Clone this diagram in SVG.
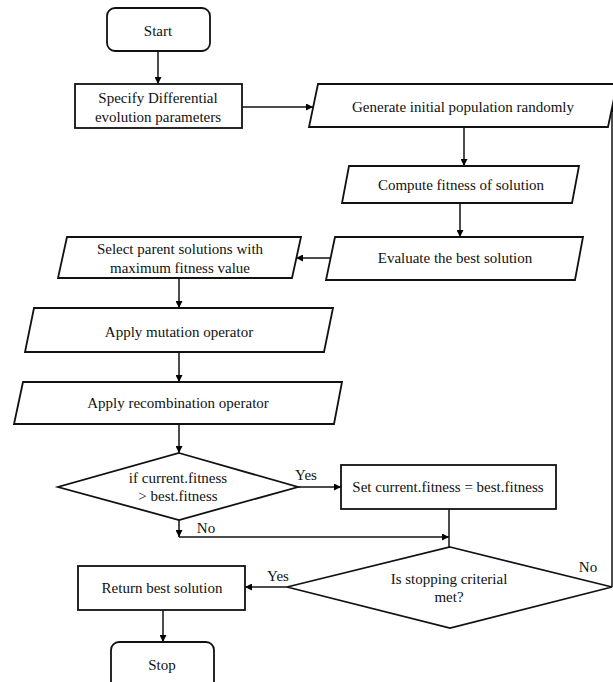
<svg xmlns="http://www.w3.org/2000/svg" width="613" height="682" viewBox="0 0 613 682">
<defs>
<marker id="ah" viewBox="0 0 10 10" refX="10" refY="5" markerWidth="7" markerHeight="7" markerUnits="userSpaceOnUse" orient="auto">
<path d="M0,0 L10,5 L0,10 z" fill="#000"/>
</marker>
<style>
.s{fill:#fff;stroke:#111;stroke-width:1.8}
.c{fill:none;stroke:#111;stroke-width:1.5}
.t{font-family:"Liberation Serif","Times New Roman",serif;font-size:15px;fill:#111;text-anchor:middle}
</style>
</defs>
<rect width="613" height="682" fill="#fff"/>
<g id="connectors">
<path class="c" d="M158,51 V84" marker-end="url(#ah)"/>
<path class="c" d="M242,107 H313" marker-end="url(#ah)"/>
<path class="c" d="M464,127 V166" marker-end="url(#ah)"/>
<path class="c" d="M460,203 V237" marker-end="url(#ah)"/>
<path class="c" d="M331,258 H296" marker-end="url(#ah)"/>
<path class="c" d="M179,278 V308" marker-end="url(#ah)"/>
<path class="c" d="M179,352 V382" marker-end="url(#ah)"/>
<path class="c" d="M179,424 V453" marker-end="url(#ah)"/>
<path class="c" d="M298,487 H341" marker-end="url(#ah)"/>
<path class="c" d="M179,520 V537" marker-end="url(#ah)"/>
<path class="c" d="M179,537 H449" marker-end="url(#ah)"/>
<path class="c" d="M449,509 V547"/>
<path class="c" d="M287,587 H245" marker-end="url(#ah)"/>
<path class="c" d="M612,587 V105" marker-end="url(#ah)"/>
<path class="c" d="M163,610 V642" marker-end="url(#ah)"/>
<text class="t" x="306" y="480">Yes</text>
<text class="t" x="206" y="533">No</text>
<text class="t" x="278" y="581">Yes</text>
<text class="t" x="588" y="572">No</text>
</g>
<g id="start">
<rect class="s" x="107" y="8" width="103" height="43" rx="8"/>
<text class="t" x="158" y="36">Start</text>
</g>
<g id="specify">
<rect class="s" x="75" y="84" width="167" height="44"/>
<text class="t" x="158" y="103">Specify Differential</text>
<text class="t" x="158" y="122">evolution parameters</text>
</g>
<g id="generate">
<polygon class="s" points="318,84 617,84 608,127 309,127"/>
<text class="t" x="463" y="112">Generate initial population randomly</text>
</g>
<g id="compute">
<polygon class="s" points="349,166 579,166 572,203 342,203"/>
<text class="t" x="461" y="190">Compute fitness of solution</text>
</g>
<g id="evaluate">
<polygon class="s" points="335,237 583,237 575,280 326,280"/>
<text class="t" x="455" y="263">Evaluate the best solution</text>
</g>
<g id="select">
<polygon class="s" points="67,237 301,237 292,278 58,278"/>
<text class="t" x="180" y="254">Select parent solutions with</text>
<text class="t" x="180" y="273">maximum fitness value</text>
</g>
<g id="mutation">
<polygon class="s" points="34,308 333,308 324,352 25,352"/>
<text class="t" x="179" y="337">Apply mutation operator</text>
</g>
<g id="recombination">
<polygon class="s" points="23,382 342,382 334,424 14,424"/>
<text class="t" x="178" y="408">Apply recombination operator</text>
</g>
<g id="decision1">
<polygon class="s" points="179,453 298,487 179,520 58,487"/>
<text class="t" x="178" y="483">if current.fitness</text>
<text class="t" x="178" y="501">&gt; best.fitness</text>
</g>
<g id="set">
<rect class="s" x="341" y="465" width="215" height="44"/>
<text class="t" x="448" y="492">Set current.fitness = best.fitness</text>
</g>
<g id="decision2">
<polygon class="s" points="450,547 612,587 450,628 287,587"/>
<text class="t" x="449" y="584">Is stopping criterial</text>
<text class="t" x="449" y="602">met?</text>
</g>
<g id="return">
<rect class="s" x="78" y="566" width="167" height="44"/>
<text class="t" x="162" y="593">Return best solution</text>
</g>
<g id="stop">
<rect class="s" x="111" y="642" width="103" height="50" rx="8"/>
<text class="t" x="162" y="670">Stop</text>
</g>
</svg>
